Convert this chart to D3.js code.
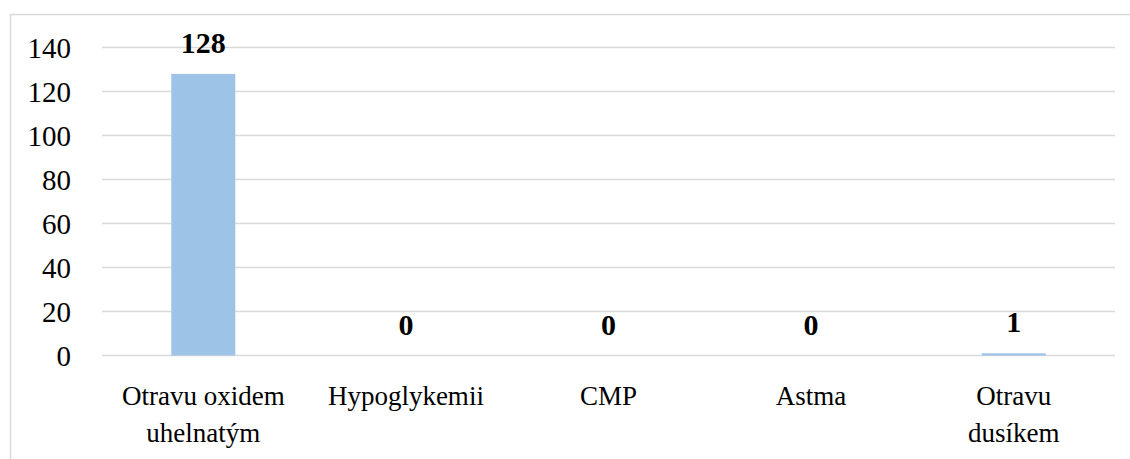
<!DOCTYPE html>
<html>
<head>
<meta charset="utf-8">
<script src="https://cdn.jsdelivr.net/npm/d3@7"></script>
<style>
  html, body { margin: 0; padding: 0; background: #fff; }
  svg { display: block; }
  text { font-family: "Liberation Serif", "Times New Roman", serif; fill: #000; }
</style>
</head>
<body>
<svg id="chart" width="1130" height="459"></svg>
<script>
// Categories (each label split into display lines) and counts
const categories = ["Otravu oxidem uhelnatým", "Hypoglykemii", "CMP", "Astma", "Otravu dusíkem"];
const categoryLines = [["Otravu oxidem", "uhelnatým"], ["Hypoglykemii"], ["CMP"], ["Astma"], ["Otravu", "dusíkem"]];
const values = [128, 0, 0, 0, 1];
const yTicks = [0, 20, 40, 60, 80, 100, 120, 140];

const svg = d3.select("#chart");
const W = 1130, H = 459;
const plot = { left: 102, right: 1115, top: 47.5, bottom: 355.5 };

// Chart frame
svg.append("rect")
  .attr("x", 10.5).attr("y", 14.5)
  .attr("width", W + 10).attr("height", H + 10)
  .attr("fill", "none").attr("stroke", "#d9d9d9").attr("stroke-width", 1.5);

const x = d3.scaleBand().domain(categories).range([plot.left, plot.right]).paddingInner(0.684).paddingOuter(0.342);
const y = d3.scaleLinear().domain([0, 140]).range([plot.bottom, plot.top]);

// Horizontal gridlines
svg.append("g").selectAll("line").data(yTicks).join("line")
  .attr("x1", plot.left).attr("x2", plot.right)
  .attr("y1", d => y(d)).attr("y2", d => y(d))
  .attr("stroke", "#d9d9d9").attr("stroke-width", 1.5);

// Y axis labels
const yAxis = d3.axisLeft(y).tickValues(yTicks).tickSize(0).tickPadding(0);
const yg = svg.append("g").attr("transform", `translate(${plot.left - 31},0)`).call(yAxis);
yg.select(".domain").remove();
yg.selectAll("text").attr("font-size", 29).attr("fill", "#000").attr("dy", "0.34em");

// Bars
svg.append("g").selectAll("rect").data(values).join("rect")
  .attr("x", (d, i) => x(categories[i]))
  .attr("width", x.bandwidth())
  .attr("y", d => y(d))
  .attr("height", d => y(0) - y(d))
  .attr("fill", "#9dc3e6");

// Value labels
svg.append("g").selectAll("text").data(values).join("text")
  .attr("x", (d, i) => x(categories[i]) + x.bandwidth() / 2)
  .attr("y", d => y(d) - 21)
  .attr("text-anchor", "middle")
  .attr("font-size", 30).attr("font-weight", "bold")
  .text(d => d);

// Category labels
const xg = svg.append("g");
categoryLines.forEach((lines, i) => {
  const cx = x(categories[i]) + x.bandwidth() / 2;
  const t = xg.append("text")
    .attr("x", cx)
    .attr("y", 405)
    .attr("text-anchor", "middle")
    .attr("font-size", 27);
  lines.forEach((ln, j) => {
    t.append("tspan").attr("x", cx).attr("dy", j === 0 ? 0 : 37).text(ln);
  });
});
</script>
</body>
</html>
